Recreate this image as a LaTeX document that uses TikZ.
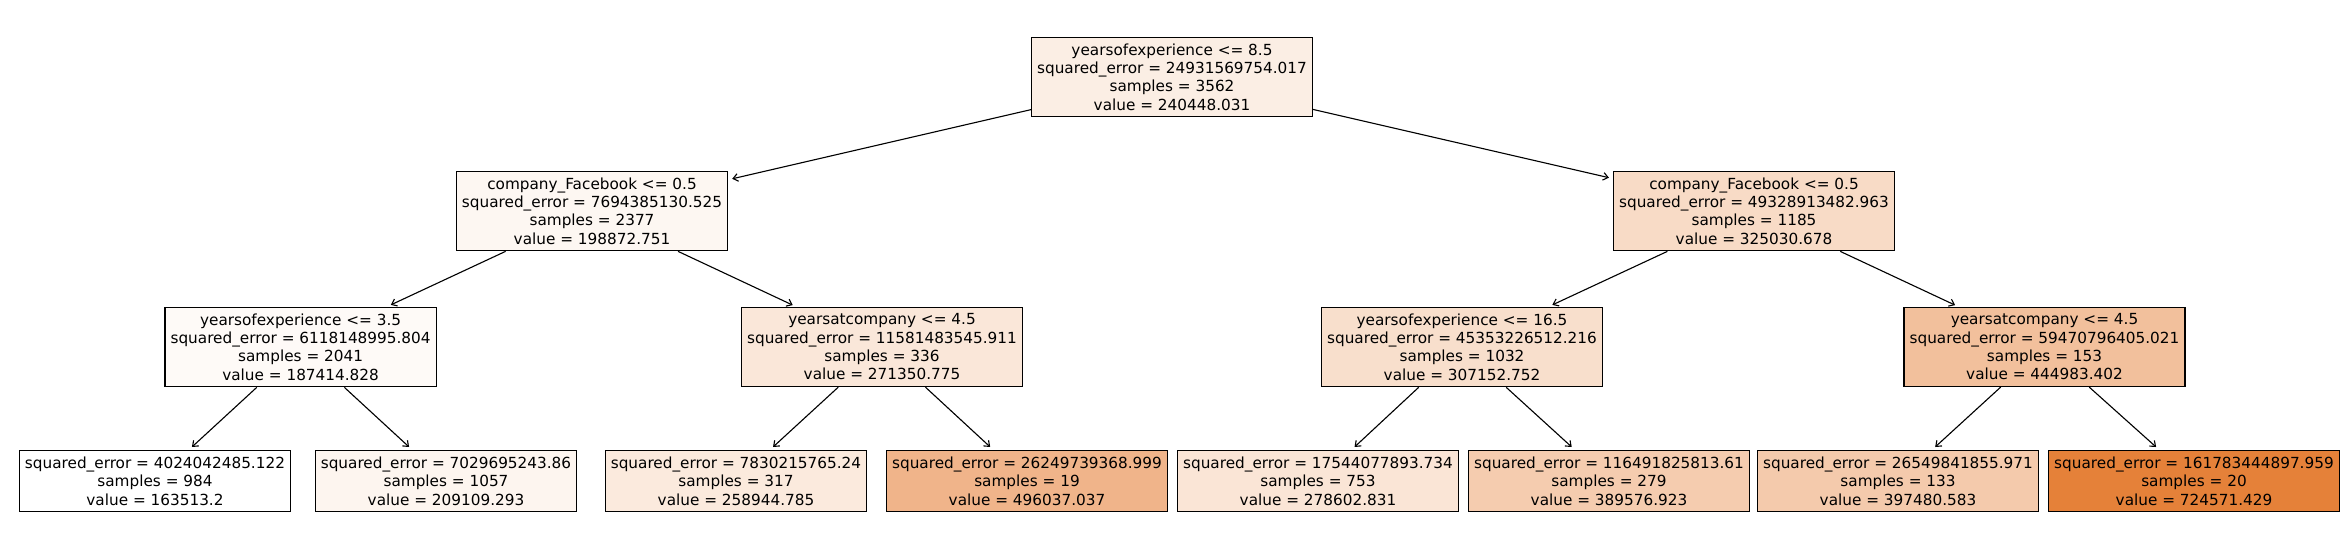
\documentclass[tikz,border=0pt]{standalone}
\usepackage{fontspec}
\setmainfont{DejaVu Sans}
\usetikzlibrary{arrows.meta}

\definecolor{cRoot}{RGB}{251,238,228}
\definecolor{cFbL}{RGB}{253,247,242}
\definecolor{cFbR}{RGB}{248,219,198}
\definecolor{cYoeA}{RGB}{254,250,247}
\definecolor{cYacL}{RGB}{250,231,217}
\definecolor{cYoeB}{RGB}{248,223,204}
\definecolor{cYacR}{RGB}{242,192,156}
\definecolor{cLfA}{RGB}{255,255,255}
\definecolor{cLfB}{RGB}{253,245,239}
\definecolor{cLfC}{RGB}{251,234,221}
\definecolor{cLfD}{RGB}{240,180,138}
\definecolor{cLfE}{RGB}{250,229,214}
\definecolor{cLfF}{RGB}{245,204,175}
\definecolor{cLfG}{RGB}{244,202,172}
\definecolor{cLfH}{RGB}{229,129,57}

\begin{document}
\begin{tikzpicture}[
        x=0.72pt, y=-0.72pt,
        every node/.style={align=center, font=\fontsize{11}{13.2}\selectfont},
        split/.style={rectangle, draw=black, line width=0.8pt, inner xsep=4pt, inner ysep=4.6pt},
        leaf/.style={split},
        edge/.style={-{Straight Barb[length=3.5pt,width=5.5pt]}, line width=0.8pt, shorten >=3pt}
    ]
        \useasboundingbox (0,0) rectangle (2345,559);

        % depth 0
        \node[split, fill=cRoot] (root) at (1172, 77) {yearsofexperience <= 8.5\\squared\_error = 24931569754.017\\samples = 3562\\value = 240448.031};

        % depth 1
        \node[split, fill=cFbL] (fbL) at (592, 211) {company\_Facebook <= 0.5\\squared\_error = 7694385130.525\\samples = 2377\\value = 198872.751};
        \node[split, fill=cFbR] (fbR) at (1754, 211) {company\_Facebook <= 0.5\\squared\_error = 49328913482.963\\samples = 1185\\value = 325030.678};

        % depth 2
        \node[split, fill=cYoeA] (yoeA) at (300.6, 347) {yearsofexperience <= 3.5\\squared\_error = 6118148995.804\\samples = 2041\\value = 187414.828};
        \node[split, fill=cYacL] (yacL) at (882, 347) {yearsatcompany <= 4.5\\squared\_error = 11581483545.911\\samples = 336\\value = 271350.775};
        \node[split, fill=cYoeB] (yoeB) at (1462, 347) {yearsofexperience <= 16.5\\squared\_error = 45353226512.216\\samples = 1032\\value = 307152.752};
        \node[split, fill=cYacR] (yacR) at (2044.5, 347) {yearsatcompany <= 4.5\\squared\_error = 59470796405.021\\samples = 153\\value = 444983.402};

        % leaves
        \node[leaf, fill=cLfA] (lfA) at (155, 481) {squared\_error = 4024042485.122\\samples = 984\\value = 163513.2};
        \node[leaf, fill=cLfB] (lfB) at (446, 481) {squared\_error = 7029695243.86\\samples = 1057\\value = 209109.293};
        \node[leaf, fill=cLfC] (lfC) at (736, 481) {squared\_error = 7830215765.24\\samples = 317\\value = 258944.785};
        \node[leaf, fill=cLfD] (lfD) at (1027, 481) {squared\_error = 26249739368.999\\samples = 19\\value = 496037.037};
        \node[leaf, fill=cLfE] (lfE) at (1318, 481) {squared\_error = 17544077893.734\\samples = 753\\value = 278602.831};
        \node[leaf, fill=cLfF] (lfF) at (1609, 481) {squared\_error = 116491825813.61\\samples = 279\\value = 389576.923};
        \node[leaf, fill=cLfG] (lfG) at (1898, 481) {squared\_error = 26549841855.971\\samples = 133\\value = 397480.583};
        \node[leaf, fill=cLfH] (lfH) at (2194, 481) {squared\_error = 161783444897.959\\samples = 20\\value = 724571.429};

        \foreach \a/\b in {root/fbL, root/fbR, fbL/yoeA, fbL/yacL, fbR/yoeB, fbR/yacR,
                           yoeA/lfA, yoeA/lfB, yacL/lfC, yacL/lfD, yoeB/lfE, yoeB/lfF, yacR/lfG, yacR/lfH}
            \draw[edge] (\a) -- (\b);
    \end{tikzpicture}
\end{document}
